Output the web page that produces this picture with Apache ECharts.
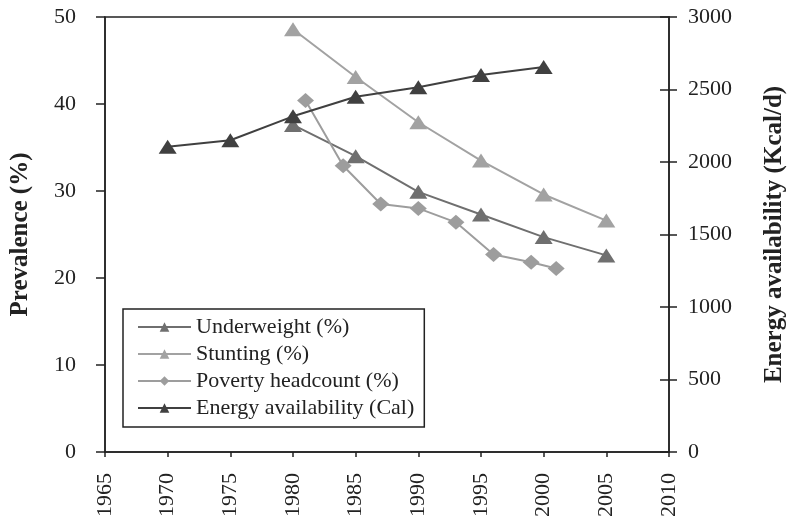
<!DOCTYPE html>
<html><head><meta charset="utf-8">
<script src="https://cdn.jsdelivr.net/npm/echarts@6/dist/echarts.min.js"></script>
<style>html,body{margin:0;padding:0;background:#fff}#c{width:787px;height:525px}</style>
</head><body><div id="c"></div>
<script>
const xTicks = [1965,1970,1975,1980,1985,1990,1995,2000,2005,2010];
const underweightYears = [1980,1985,1990,1995,2000,2005];
const underweight = [37.6,34.0,29.9,27.3,24.7,22.6];
const stuntingYears = [1980,1985,1990,1995,2000,2005];
const stunting = [48.6,43.1,37.9,33.5,29.6,26.6];
const povertyYears = [1981,1984,1987,1990,1993,1996,1999,2001];
const poverty = [40.4,32.9,28.5,28.0,26.4,22.7,21.8,21.1];
const energyYears = [1970,1975,1980,1985,1990,1995,2000];
const energy = [2105,2150,2315,2450,2515,2600,2655];

const pair = (xs, ys) => xs.map((x,i)=>[x, ys[i]]);
const F = 'Liberation Serif';
const axisCol = '#222';
const TS = 22;

const chart = echarts.init(document.getElementById('c'));
chart.setOption({
  animation:false,
  textStyle:{fontFamily:F},
  grid:{left:105,right:118,top:17,bottom:73,show:true,borderColor:axisCol,borderWidth:1.5,
        containLabel:false,outerBoundsMode:'none'},
  legend:{
    orient:'vertical', left:123, top:309,
    padding:[7,10,8,14], itemGap:5, itemWidth:53, itemHeight:12,
    borderColor:axisCol, borderWidth:1.5,
    textStyle:{fontFamily:F,fontSize:TS,color:'#222',lineHeight:22},
    data:['Underweight (%)','Stunting (%)','Poverty headcount (%)','Energy availability (Cal)']
  },
  xAxis:{
    type:'value', min:1965, max:2010, interval:5,
    axisLine:{lineStyle:{color:axisCol,width:1.5}},
    axisTick:{show:true,length:5,lineStyle:{color:axisCol,width:1.5}},
    splitLine:{show:false},
    axisLabel:{rotate:90,margin:21,color:'#222',fontSize:TS,fontFamily:F,formatter:v=>String(v)}
  },
  yAxis:[
    {type:'value',min:0,max:50,interval:10,position:'left',
     name:'Prevalence (%)',nameLocation:'middle',nameGap:72,
     nameTextStyle:{fontFamily:F,fontSize:25,fontWeight:'bold',color:'#222'},
     axisLine:{show:true,lineStyle:{color:axisCol,width:1.5}},
     axisTick:{show:true,length:9,lineStyle:{color:axisCol,width:1.5}},
     splitLine:{show:false},
     axisLabel:{margin:29,color:'#222',fontSize:TS,fontFamily:F}},
    {type:'value',min:0,max:3000,interval:500,position:'right',
     name:'Energy availability (Kcal/d)',nameLocation:'middle',nameGap:93,nameRotate:90,
     nameTextStyle:{fontFamily:F,fontSize:25,fontWeight:'bold',color:'#222'},
     axisLine:{show:true,lineStyle:{color:axisCol,width:1.5}},
     axisTick:{show:true,length:8,lineStyle:{color:axisCol,width:1.5}},
     splitLine:{show:false},
     axisLabel:{margin:19,color:'#222',fontSize:TS,fontFamily:F,formatter:v=>String(v)}},
    {type:'value',min:0,max:3000,interval:500,position:'right',
     axisLine:{show:false},
     axisTick:{show:true,inside:true,length:9,lineStyle:{color:axisCol,width:1.5}},
     splitLine:{show:false},axisLabel:{show:false}}
  ],
  series:[
    {name:'Underweight (%)',type:'line',yAxisIndex:0,data:pair(underweightYears,underweight),
     symbol:'triangle',symbolSize:[18,14],color:'#6f6f6f',lineStyle:{width:2,color:'#6f6f6f'},itemStyle:{color:'#6f6f6f'}},
    {name:'Stunting (%)',type:'line',yAxisIndex:0,data:pair(stuntingYears,stunting),
     symbol:'triangle',symbolSize:[18,14],color:'#a2a2a2',lineStyle:{width:2,color:'#a2a2a2'},itemStyle:{color:'#a2a2a2'}},
    {name:'Poverty headcount (%)',type:'line',yAxisIndex:0,data:pair(povertyYears,poverty),
     symbol:'diamond',symbolSize:[17,15],color:'#9d9d9d',lineStyle:{width:2,color:'#9d9d9d'},itemStyle:{color:'#9d9d9d'}},
    {name:'Energy availability (Cal)',type:'line',yAxisIndex:1,data:pair(energyYears,energy),
     symbol:'triangle',symbolSize:[18,14],color:'#404040',lineStyle:{width:2,color:'#404040'},itemStyle:{color:'#404040'}}
  ]
});
</script></body></html>
